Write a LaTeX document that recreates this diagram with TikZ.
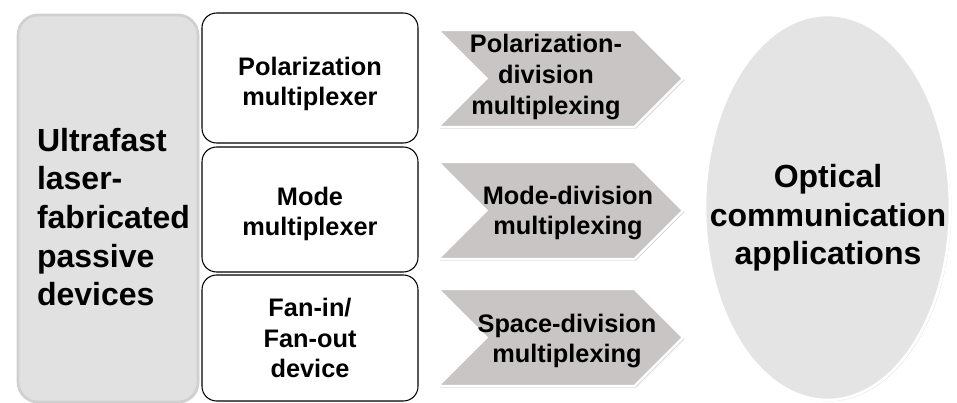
\documentclass[tikz,border=0pt]{standalone}
\usepackage{fontspec}
\setmainfont{Liberation Sans}
\usepackage{xcolor}
\usepackage{tikz}
\usetikzlibrary{positioning,shapes,shapes.symbols,shadows}

\definecolor{rectgray}{RGB}{225,225,225}
\definecolor{rectrim}{RGB}{208,208,208}
\definecolor{chevgray}{RGB}{201,197,197}
\definecolor{ovalgray}{RGB}{228,228,228}

\begin{document}
\begin{tikzpicture}[
    x=0.75pt, y=-0.75pt,
    every node/.style={inner sep=0pt, outer sep=0pt},
    bigtext/.style={font=\bfseries\fontsize{24}{29}\selectfont},
    midtext/.style={font=\bfseries\fontsize{19}{23}\selectfont, align=center},
    devbox/.style={rectangle, rounded corners=11pt, draw=black, line width=0.8pt,
        fill=white, minimum width=162pt},
    chevron/.style={signal, signal from=west, signal to=east, signal pointer angle=90,
        fill=chevgray, draw=white, line width=1.8pt, minimum width=183.75pt,
        minimum height=72.75pt,
        drop shadow={opacity=0.3, shadow xshift=1.2pt, shadow yshift=-1.2pt}},
    thick
]

\useasboundingbox (0,0) rectangle (957,403);

% Left block
\node[rectangle, rounded corners=15pt, fill=rectgray, draw=rectrim, line width=2pt,
    minimum width=135pt, minimum height=290.25pt,
    drop shadow={opacity=0.2, shadow xshift=1pt, shadow yshift=-1pt}]
    (laser) at (108,208.5) {};
\node[bigtext, align=left, anchor=west] (lasertext) at (37,217)
    {Ultrafast\\laser-\\fabricated\\passive\\devices};

% Devices
\node[devbox, minimum height=97.5pt] (polmux) at (310,78) {};
\node[devbox, minimum height=93.75pt] (modemux) at (310,209.5) {};
\node[devbox, minimum height=94.5pt] (fanio) at (310,338) {};

\node[midtext] (polmuxtext) at (310,84) {Polarization\\multiplexer};
\node[midtext] (modemuxtext) at (310,214) {Mode\\multiplexer};
\node[midtext] (faniotext) at (310,338) {Fan-in/\\Fan-out\\device};

% Multiplexing schemes
\node[chevron] (pdm) at (560.5,78.5) {};
\node[chevron] (mdm) at (560.5,210.5) {};
\node[chevron] (sdm) at (560.5,337.5) {};

\node[midtext] (pdmtext) at (546,77) {Polarization-\\division\\multiplexing};
\node[midtext] (mdmtext) at (568,213) {Mode-division\\multiplexing};
\node[midtext] (sdmtext) at (567,341) {Space-division\\multiplexing};

% Applications
\node[ellipse, fill=ovalgray, draw=white, line width=2pt,
    minimum width=183.75pt, minimum height=288.75pt,
    drop shadow={opacity=0.25, shadow xshift=1pt, shadow yshift=-1pt}]
    (optcomm) at (827.5,207.5) {};
\node[bigtext, align=center] (optcommtext) at (828,218)
    {Optical\\communication\\applications};

\end{tikzpicture}
\end{document}
